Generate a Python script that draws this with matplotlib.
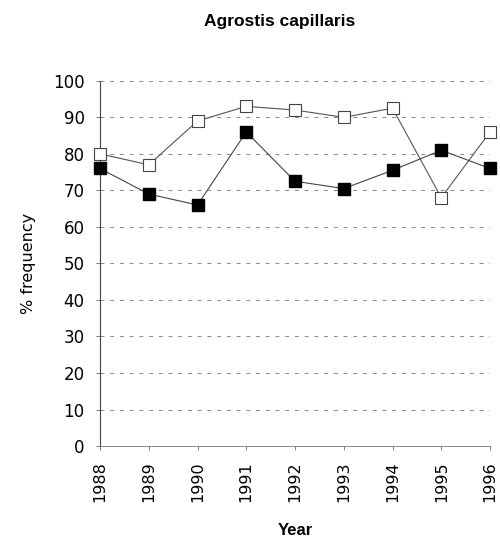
import matplotlib
matplotlib.use("Agg")
import matplotlib.pyplot as plt

plt.rcParams["font.family"] = ["DejaVu Sans"]

# frequency of Agrostis capillaris per year, two series
years = [1988, 1989, 1990, 1991, 1992, 1993, 1994, 1995, 1996]
open_sq = [80, 77, 89, 93, 92, 90, 92.5, 68, 86]
filled_sq = [76, 69, 66, 86, 72.5, 70.5, 75.5, 81, 76]
yticks = [0, 10, 20, 30, 40, 50, 60, 70, 80, 90, 100]

fig = plt.figure(figsize=(5, 5.46), dpi=100)
ax = fig.add_axes([0.2, 0.183, 0.78, 0.669])

ax.plot(years, open_sq, color="#555555", lw=0.8, marker="s", ms=8,
        mfc="white", mec="#444444", mew=0.8, clip_on=False, zorder=3)
ax.plot(years, filled_sq, color="#444444", lw=0.8, marker="s", ms=8,
        mfc="black", mec="black", clip_on=False, zorder=4)

ax.set_xlim(1988, 1996)
ax.set_ylim(0, 100)
ax.set_xticks(years)
ax.set_xticklabels([str(y) for y in years], rotation=90, fontsize=11.5)
ax.set_yticks(yticks)
ax.set_yticklabels([str(t) for t in yticks], fontsize=12)
ax.tick_params(axis="both", length=3, width=0.6, color="#666666", pad=8)

for t in yticks[1:]:
    ax.axhline(t, color="#888888", lw=0.7, ls=(0, (4, 6)), zorder=1)

for side in ["top", "right"]:
    ax.spines[side].set_visible(False)
ax.spines["left"].set_linewidth(0.8)
ax.spines["left"].set_color("#444444")
ax.spines["bottom"].set_linewidth(0.6)
ax.spines["bottom"].set_color("#777777")

ax.set_xlabel("Year", family="Liberation Sans", fontsize=12, fontweight="bold", labelpad=15)
ax.set_ylabel("% frequency", fontsize=11.5, labelpad=12)
fig.suptitle("Agrostis capillaris", family="Liberation Sans", x=0.56, y=0.975,
             fontsize=12.5, fontweight="bold")

fig.savefig("out.png", dpi=100)
